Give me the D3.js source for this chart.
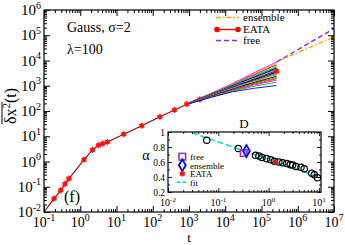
<!DOCTYPE html>
<html><head><meta charset="utf-8">
<script src="https://cdn.jsdelivr.net/npm/d3@7"></script>
<style>body{margin:0;background:#fff}svg{display:block}text{font-family:"Liberation Serif","Times New Roman",serif;fill:#000}</style>
</head><body><svg id="c" width="345" height="245"></svg>
<script>
// ---------- data ----------
const eataT = [0.1, 0.19, 0.29, 0.38, 0.49, 1.27, 2.2, 3.2, 4.2, 5.6, 15.8, 50, 158, 398, 871, 1995, 5012, 12589, 31623, 79433, 263027];
const eataY = [0.01, 0.034, 0.072, 0.13, 0.21, 1.18, 2.9, 4.4, 5.1, 5.9, 12, 26, 59, 110, 186, 288, 468, 759, 1259, 2042, 3800];
const fanT = [1000, 4000, 16000, 63000, 260000];
const fanY = [
  [214, 501, 1231, 3311, 8710],
  [214, 479, 1175, 2951, 7586],
  [209, 468, 1122, 2754, 6761],
  [209, 457, 1071, 2512, 6026],
  [204, 447, 1023, 2399, 5495],
  [209, 447, 1000, 2188, 5012],
  [204, 437, 977, 2138, 4571],
  [204, 437, 934, 1995, 4266],
  [204, 427, 891, 1820, 3981],
  [204, 427, 851, 1862, 3631],
  [204, 408, 871, 1698, 3388],
  [204, 408, 851, 1622, 3162],
  [204, 398, 832, 1549, 2951],
  [199, 398, 776, 1479, 2754],
  [204, 389, 759, 1413, 2570],
  [199, 389, 741, 1349, 2344],
  [199, 380, 708, 1259, 2138],
  [199, 372, 676, 1175, 1905],
  [199, 363, 646, 1072, 1660],
  [195, 355, 617, 955, 1380],
  [195, 347, 575, 794, 1023]
];
const fanColors = ["#ff00ff","#ffa500","#ff0000","#00e0e0","#00c000","#000000","#0000ff","#40e0d0","#9400d3","#a52a2a","#000000","#00c000","#ff00ff","#00e0e0","#ffa500","#000000","#00b000","#ff0000","#ff00ff","#00c000","#0000ff"];
const ensT = [3.2e5, 1e7];
const ensY = [1.02e4, 8.5e4];
const freeT = [2.6e5, 1e7];
const freeY = [8.7e3, 1.82e5];
const xTickExp = [-1, 0, 1, 2, 3, 4, 5, 6, 7];
const yTickExp = [-2, -1, 0, 1, 2, 3, 4, 5, 6];

const insD = [0.059, 0.25, 0.55, 0.64, 0.74, 0.91, 1.1, 1.3, 1.6, 1.9, 2.3, 2.7, 3.0, 3.5, 4.4, 5.1, 7.2, 8.1, 9.4];
const insA = [0.89, 0.78, 0.69, 0.68, 0.66, 0.645, 0.63, 0.61, 0.60, 0.59, 0.58, 0.565, 0.56, 0.54, 0.53, 0.51, 0.45, 0.43, 0.39];
const freePt = {D: 0.32, a: 0.72};
const ensPt = {D: 0.363, a: 0.747};
const eataPt = {D: 1.38, a: 0.60};
const fitD = [0.03, 11];
const fitA = [0.99, 0.39];
const insXExp = [-2, -1, 0, 1];
const insYTicks = [0.2, 0.4, 0.6, 0.8, 1.0];
const insYLabels = ["0.2", "0.4", "0.6", "0.8", "1"];

// ---------- setup ----------
const svg = d3.select("#c");
const X = d3.scaleLog().domain([0.1, 1e7]).range([44, 334]);
const Y = d3.scaleLog().domain([0.01, 1e6]).range([212, 10]);
const IX = d3.scaleLog().domain([0.01, 11]).range([168, 321]);
const IY = d3.scaleLinear().domain([0.2, 1.0]).range([192, 132]);

function logTicks(dom){
  const lo = Math.floor(Math.log10(dom[0]) + 1e-9), hi = Math.ceil(Math.log10(dom[1]) - 1e-9);
  const maj = [], min = [];
  for (let e = lo; e <= hi; e++) {
    const b = Math.pow(10, e);
    if (b >= dom[0]*0.999 && b <= dom[1]*1.001) maj.push(b);
    for (let k = 2; k <= 9; k++) { const v = k*b; if (v > dom[0] && v < dom[1]) min.push(v); }
  }
  return {maj, min};
}
function ticksAll(sel, x, y, xt, yt, big, small, sw){
  const [xa, xb] = x.range(), [yb, ya] = y.range();
  const add = (axis, tr) => {
    const a = sel.append("g").attr("transform", tr).call(axis);
    a.select(".domain").remove();
    a.selectAll("line").attr("stroke", "#000").attr("stroke-width", sw);
    a.selectAll("text").remove();
  };
  [[xt.maj, big], [xt.min, small]].forEach(([v, s]) => {
    add(d3.axisBottom(x).tickValues(v).tickSize(-s).tickSizeOuter(0), `translate(0,${yb})`);
    add(d3.axisTop(x).tickValues(v).tickSize(-s).tickSizeOuter(0), `translate(0,${ya})`);
  });
  [[yt.maj, big], [yt.min, small]].forEach(([v, s]) => {
    add(d3.axisLeft(y).tickValues(v).tickSize(-s).tickSizeOuter(0), `translate(${xa},0)`);
    add(d3.axisRight(y).tickValues(v).tickSize(-s).tickSizeOuter(0), `translate(${xb},0)`);
  });
  sel.append("rect").attr("x", xa).attr("y", ya).attr("width", xb - xa).attr("height", yb - ya)
    .attr("fill", "none").attr("stroke", "#000").attr("stroke-width", 1.2);
}
function powLabel(sel, x, y, exp, fs, efs, anchor){
  const t = sel.append("text").attr("x", x).attr("y", y).attr("font-size", fs).attr("text-anchor", anchor);
  t.append("tspan").text("10");
  t.append("tspan").attr("dy", -fs*0.42).attr("font-size", efs).text(exp < 0 ? "-" + (-exp) : exp);
  return t;
}

// ---------- main plot ----------
const main = svg.append("g");
svg.append("clipPath").attr("id", "mc").append("rect")
  .attr("x", 44).attr("y", 10).attr("width", 290).attr("height", 202);
const plot = main.append("g").attr("clip-path", "url(#mc)");
const line = d3.line().x(d => X(d[0])).y(d => Y(d[1]));

plot.append("path").datum(eataT.map((t, i) => [t, eataY[i]])).attr("d", line)
  .attr("fill", "none").attr("stroke", "#a00000").attr("stroke-width", 1.1);
const star = d3.symbol().type(d3.symbolAsterisk || d3.symbolCross).size(26);
function eataMarker(sel, cx, cy){
  sel.append("circle").attr("cx", cx).attr("cy", cy).attr("r", 2.4).attr("fill", "#ff1010");
  sel.append("path").attr("d", star()).attr("transform", `translate(${cx},${cy})`)
    .attr("fill", "none").attr("stroke", "#ff1010").attr("stroke-width", 1.2);
}
eataT.forEach((t, i) => { if (i > 0 && i < eataT.length - 1) eataMarker(plot, X(t), Y(eataY[i])); });

fanY.forEach((ys, k) => {
  plot.append("path").datum(fanT.map((t, i) => [t, ys[i]])).attr("d", line)
    .attr("fill", "none").attr("stroke", fanColors[k]).attr("stroke-width", 0.9);
});
eataMarker(plot, X(eataT[eataT.length - 1]), Y(eataY[eataY.length - 1]));

plot.append("path").datum(ensT.map((t, i) => [t, ensY[i]])).attr("d", line)
  .attr("fill", "none").attr("stroke", "#ffa500").attr("stroke-width", 1.4).attr("stroke-dasharray", "5,2,1.5,2");
plot.append("path").datum(freeT.map((t, i) => [t, freeY[i]])).attr("d", line)
  .attr("fill", "none").attr("stroke", "#8a2be2").attr("stroke-width", 1.4).attr("stroke-dasharray", "5,3");

ticksAll(main, X, Y, logTicks(X.domain()), logTicks(Y.domain()), 6, 3, 1);

xTickExp.forEach(e => powLabel(main, X(Math.pow(10, e)), 227, e, 14, 10, "middle"));
yTickExp.forEach(e => powLabel(main, 41, Y(Math.pow(10, e)) + 5, e, 15, 10, "end"));

main.append("text").attr("x", 189).attr("y", 242).attr("font-size", 13).attr("text-anchor", "middle").text("t");

// y label
const yl = main.append("g").attr("transform", "translate(16,106) rotate(-90)");
const ylt = yl.append("text").attr("font-size", 16);
ylt.append("tspan").text("δx");
ylt.append("tspan").attr("dy", -6).attr("font-size", 11).text("2");
ylt.append("tspan").attr("dy", 6).text("(t)");
const ylen = ylt.node().getComputedTextLength();
ylt.attr("x", -ylen/2);
let barLen = 24;
try { barLen = ylt.node().getSubStringLength(0, 3) + 1; } catch (e) {}
yl.append("line").attr("x1", -ylen/2).attr("x2", -ylen/2 + barLen).attr("y1", -14).attr("y2", -14)
  .attr("stroke", "#000").attr("stroke-width", 1);
yl.append("line").attr("x1", -ylen/2 + barLen - 7).attr("x2", -ylen/2 + barLen).attr("y1", -16.5).attr("y2", -16.5)
  .attr("stroke", "#000").attr("stroke-width", 0.8);

main.append("text").attr("x", 67).attr("y", 32).attr("font-size", 14).text("Gauss,  σ=2");
main.append("text").attr("x", 67).attr("y", 54).attr("font-size", 14).text("λ=100");
main.append("text").attr("x", 64).attr("y", 202).attr("font-size", 16).text("(f)");

// legend
const lg = main.append("g");
lg.append("line").attr("x1", 216).attr("x2", 239).attr("y1", 17.5).attr("y2", 17.5)
  .attr("stroke", "#ffa500").attr("stroke-width", 1.4).attr("stroke-dasharray", "5,2,1.5,2");
lg.append("text").attr("x", 243).attr("y", 21).attr("font-size", 11).text("ensemble");
lg.append("line").attr("x1", 217).attr("x2", 238).attr("y1", 29.5).attr("y2", 29.5)
  .attr("stroke", "#ff0000").attr("stroke-width", 1.4);
[217, 238].forEach(cx => lg.append("circle").attr("cx", cx).attr("cy", 29.5).attr("r", 2.8).attr("fill", "#ff0000"));
lg.append("text").attr("x", 243).attr("y", 33).attr("font-size", 11).text("EATA");
lg.append("line").attr("x1", 216).attr("x2", 239).attr("y1", 40.5).attr("y2", 40.5)
  .attr("stroke", "#8a2be2").attr("stroke-width", 1.4).attr("stroke-dasharray", "5,3");
lg.append("text").attr("x", 243).attr("y", 44).attr("font-size", 11).text("free");

// ---------- inset ----------
const ins = svg.append("g");
ins.append("rect").attr("x", 168).attr("y", 132).attr("width", 153).attr("height", 60).attr("fill", "#fff");
svg.append("clipPath").attr("id", "ic").append("rect").attr("x", 168).attr("y", 132).attr("width", 153).attr("height", 60);
const ip = ins.append("g").attr("clip-path", "url(#ic)");
const iline = d3.line().x(d => IX(d[0])).y(d => IY(d[1]));
ip.append("path").datum(fitD.map((d, i) => [d, fitA[i]])).attr("d", iline)
  .attr("fill", "none").attr("stroke", "#00dede").attr("stroke-width", 1.6).attr("stroke-dasharray", "6,3");
insD.forEach((d, i) => ip.append("circle").attr("cx", IX(d)).attr("cy", IY(insA[i])).attr("r", 3.2)
  .attr("fill", "none").attr("stroke", "#000").attr("stroke-width", 1.2));
function sq(sel, cx, cy){ sel.append("rect").attr("x", cx-3.3).attr("y", cy-3.3).attr("width", 6.6).attr("height", 6.6)
  .attr("fill", "none").attr("stroke", "#9932cc").attr("stroke-width", 1.6); }
function dia(sel, cx, cy){ sel.append("path").attr("d", d3.symbol().type(d3.symbolDiamond).size(40)())
  .attr("transform", `translate(${cx},${cy})`).attr("fill", "none").attr("stroke", "#0000ff").attr("stroke-width", 1.8); }
sq(ip, IX(freePt.D), IY(freePt.a));
dia(ip, IX(ensPt.D), IY(ensPt.a));
eataMarker(ip, IX(eataPt.D), IY(eataPt.a));

const iyt = {maj: insYTicks, min: [0.3, 0.5, 0.7, 0.9]};
ticksAll(ins, IX, IY, logTicks(IX.domain()), iyt, 4, 2, 0.9);
insXExp.forEach(e => powLabel(ins, IX(Math.pow(10, e)), 206, e, 10, 7, "middle"));
insYTicks.forEach((v, i) => ins.append("text").attr("x", 165).attr("y", IY(v) + 3.5)
  .attr("font-size", 9.5).attr("text-anchor", "end").text(insYLabels[i]));
ins.append("text").attr("x", 244).attr("y", 128).attr("font-size", 13).attr("text-anchor", "middle").text("D");
ins.append("text").attr("x", 146).attr("y", 160).attr("font-size", 14).attr("text-anchor", "middle").text("α");

const il = ins.append("g");
sq(il, 182.3, 156.7);
il.append("text").attr("x", 190).attr("y", 160).attr("font-size", 9).text("free");
dia(il, 182.3, 165.2);
il.append("text").attr("x", 190).attr("y", 168.5).attr("font-size", 9).text("ensemble");
eataMarker(il, 182.3, 173.7);
il.append("text").attr("x", 190).attr("y", 177).attr("font-size", 9).text("EATA");
il.append("line").attr("x1", 176.5).attr("x2", 187).attr("y1", 182.2).attr("y2", 182.2)
  .attr("stroke", "#00dede").attr("stroke-width", 1.6).attr("stroke-dasharray", "4,2");
il.append("text").attr("x", 190).attr("y", 185.5).attr("font-size", 9).text("fit");
</script></body></html>
